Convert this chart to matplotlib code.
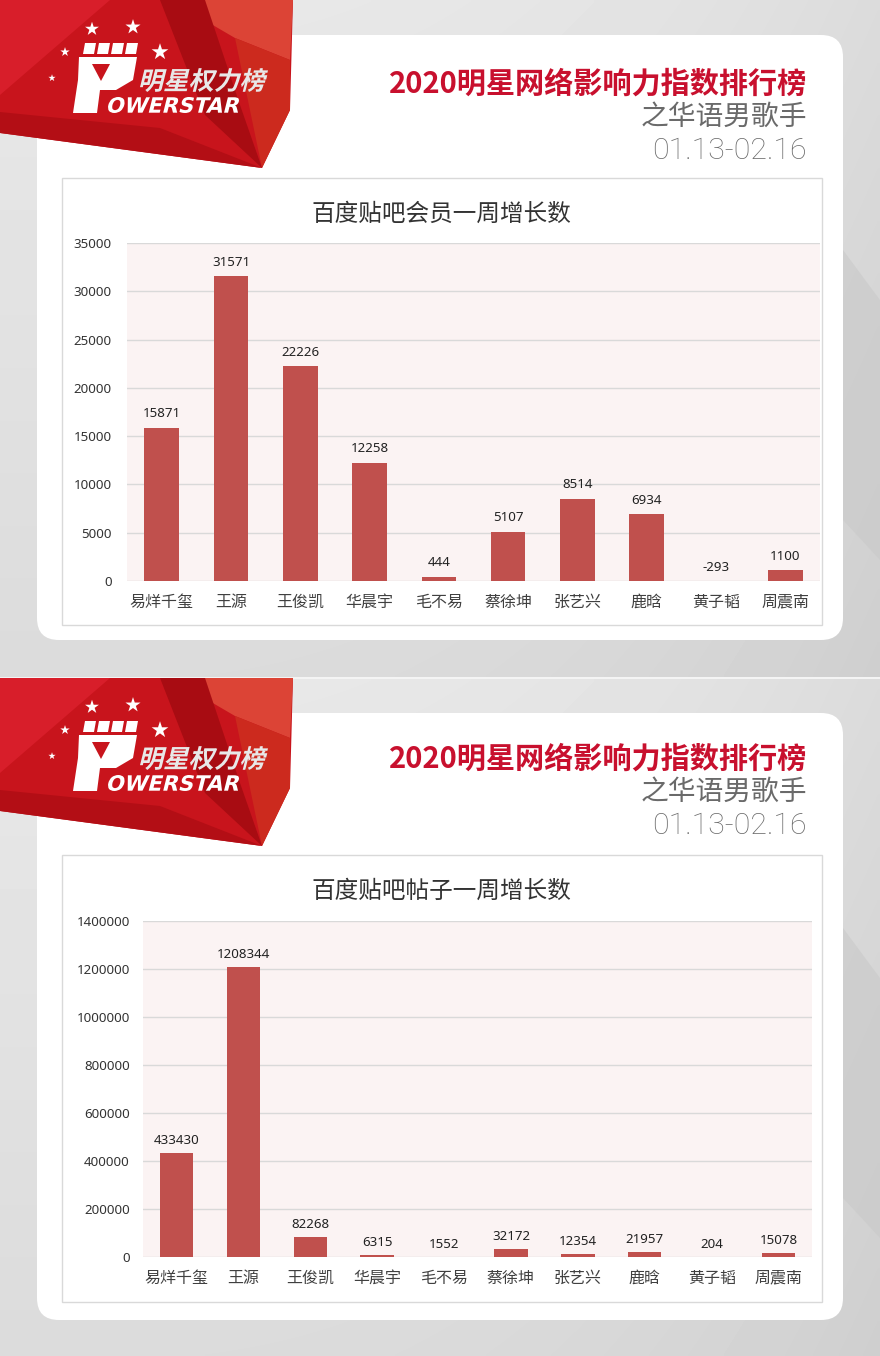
"""
Recreates the PowerStar ranking cards: weekly growth on Baidu Tieba
"""
import numpy as np
import matplotlib
matplotlib.use("Agg")
import matplotlib.pyplot as plt
from matplotlib.patches import Polygon, FancyBboxPatch, Rectangle, PathPatch
from matplotlib.textpath import TextPath
from matplotlib.font_manager import FontProperties
from matplotlib.transforms import Affine2D

plt.rcParams['font.family'] = ['Noto Sans CJK SC', 'DejaVu Sans']

W, H = 880, 1356

NAMES = ['易烊千玺', '王源', '王俊凯', '华晨宇', '毛不易', '蔡徐坤', '张艺兴', '鹿晗', '黄子韬', '周震南']
MEMBERS = [15871, 31571, 22226, 12258, 444, 5107, 8514, 6934, -293, 1100]
POSTS = [433430, 1208344, 82268, 6315, 1552, 32172, 12354, 21957, 204, 15078]

MEMBER_TICKS = [0, 5000, 10000, 15000, 20000, 25000, 30000, 35000]
POST_TICKS = [0, 200000, 400000, 600000, 800000, 1000000, 1200000, 1400000]

HEADER = '2020明星网络影响力指数排行榜'
SUBHEADER = '之华语男歌手'
DATES = '01.13-02.16'
TITLES = ['百度贴吧会员一周增长数', '百度贴吧帖子一周增长数']

BAR_COLOR = '#c0504d'
TEXT_COLOR = '#404040'
NUM_FONT = ['Noto Sans', 'DejaVu Sans']


def px_axes(fig, x0, y0, x1, y1):
    """
    Adds an axes placed by pixel box (y measured from the top).
    """
    return fig.add_axes([x0 / W, 1 - y1 / H, (x1 - x0) / W, (y1 - y0) / H])


def fit_text(bg, s, box, prop, color, skew=0):
    """
    Draws a text path stretched into a pixel box, optionally slanted.
    """
    tp = TextPath((0, 0), s, size=100, prop=prop)
    path = Affine2D().skew_deg(skew, 0).transform_path(tp)
    ext = path.get_extents()
    x0, y0, x1, y1 = box
    sx = (x1 - x0) / ext.width
    sy = (y1 - y0) / ext.height
    tr = Affine2D().translate(-ext.x0, -ext.y1).scale(sx, -sy).translate(x0, y0)
    bg.add_patch(PathPatch(tr.transform_path(path), facecolor=color, lw=0, zorder=6))


def draw_background(bg):
    """
    Grey gradient behind both cards.
    """
    yy = np.linspace(0, 1, 200)[:, None]
    xx = np.linspace(0, 1, 200)[None, :]
    shade = 0.91 - 0.05 * yy - 0.05 * xx ** 3
    for y0, y1 in [(0, 677), (679, H)]:
        bg.imshow(shade, cmap='gray', vmin=0, vmax=1, extent=(0, W, y1, y0),
                  aspect='auto', zorder=0, interpolation='bilinear')
    bg.add_patch(Rectangle((0, 677), W, 2, facecolor='#f4f4f4', lw=0, zorder=1))
    # faint diagonal facets on the right
    for dy in (0, 678):
        bg.add_patch(Polygon([(843, 250 + dy), (880, 300 + dy), (880, 560 + dy), (843, 520 + dy)],
                             facecolor='#c9c9c9', lw=0, alpha=0.6, zorder=1))


def draw_logo(bg, dy):
    """
    Red faceted banner with the PowerStar fist logo.
    """
    facets = [
        ([(0, 0), (293, 0), (290, 110), (262, 168), (0, 133)], '#c8141c'),
        ([(0, 0), (110, 0), (0, 95)], '#d81e2a'),
        ([(170, 0), (293, 0), (290, 60), (235, 38)], '#dc4436'),
        ([(160, 0), (205, 0), (240, 105), (262, 168), (205, 115)], '#a80c12'),
        ([(0, 133), (0, 112), (160, 128), (262, 168)], '#b30e15'),
        ([(235, 38), (290, 60), (290, 110), (262, 168)], '#cc2a1e'),
    ]
    for pts, col in facets:
        bg.add_patch(Polygon([(x, y + dy) for x, y in pts], facecolor=col, lw=0, zorder=5))

    fist = [(79, 57), (137, 57), (133, 80), (116, 90), (100, 90), (97, 113),
            (73, 113), (78, 80)]
    bg.add_patch(Polygon([(x, y + dy) for x, y in fist], facecolor='white', lw=0, zorder=6))
    bg.add_patch(Polygon([(92, 64 + dy), (110, 64 + dy), (101, 81 + dy)],
                         facecolor='#c8141c', lw=0, zorder=6))
    for fx in (83, 97, 111, 125):
        bg.add_patch(Polygon([(fx + 2, 43 + dy), (fx + 13, 43 + dy), (fx + 11, 54 + dy), (fx, 54 + dy)],
                             facecolor='white', lw=0, zorder=6))

    star_x = [92, 133, 65, 160, 52]
    star_y = [29, 27, 52, 52, 78]
    star_s = [110, 130, 50, 160, 30]
    bg.scatter(star_x, [y + dy for y in star_y], s=star_s, marker='*', color='white',
               lw=0, zorder=7)

    fit_text(bg, '明星权力榜', (140, 68 + dy, 268, 92 + dy),
             FontProperties(family='Noto Sans CJK SC', weight='bold'), '#e8e8e8', skew=14)
    fit_text(bg, 'OWERSTAR', (108, 97 + dy, 239, 113 + dy),
             FontProperties(family='DejaVu Sans', weight='bold'), 'white', skew=14)


def draw_card(bg, dy, top, bottom):
    """
    White rounded card with the header lines.
    """
    bg.add_patch(FancyBboxPatch((37, top), 806, bottom - top,
                                boxstyle='round,pad=0,rounding_size=22',
                                facecolor='white', edgecolor='none', zorder=2))
    bg.text(807, 84 + dy, HEADER, ha='right', va='center', fontsize=21,
            fontweight='bold', color='#c8102e', zorder=3)
    bg.text(807, 117 + dy, SUBHEADER, ha='right', va='center', fontsize=20,
            fontweight='light', color='#6a6a6a', zorder=3)
    bg.text(807, 151 + dy, DATES, ha='right', va='center', fontsize=21.8,
            family=['Roboto', 'DejaVu Sans'], fontweight='light', color='#6a6a6a', zorder=3)


def draw_chart(fig, bg, values, ticks, title, frame, plot_box, title_y, label_off, ypad):
    """
    Bar chart with value labels in an Excel-like frame.
    """
    fx0, fy0, fx1, fy1 = frame
    bg.add_patch(Rectangle((fx0, fy0), fx1 - fx0, fy1 - fy0, facecolor='white',
                           edgecolor='#d9d9d9', lw=1, zorder=3))
    bg.text(441, title_y, title, ha='center', va='center',
            fontsize=17, color='#333333', zorder=4)

    ax = px_axes(fig, *plot_box)
    ax.set_zorder(5)
    ax.set_facecolor('#fbf3f3')
    x = np.arange(len(values))
    ax.bar(x, values, width=0.5, color=BAR_COLOR, zorder=3)
    for i, v in enumerate(values):
        ax.annotate(str(v), (i, max(v, 0)), xytext=(0, label_off), textcoords='offset points',
                    ha='center', va='center', fontsize=9.6, family=NUM_FONT, color='#222222')

    ax.set_xlim(-0.5, len(values) - 0.5)
    ax.set_ylim(ticks[0], ticks[-1])
    ax.set_yticks(ticks)
    ax.set_yticklabels([str(t) for t in ticks], family=NUM_FONT)
    ax.set_xticks(x)
    ax.set_xticklabels(NAMES)
    ax.tick_params(axis='y', length=0, pad=ypad, labelsize=9.6, labelcolor='#333333')
    ax.tick_params(axis='x', length=0, pad=9, labelsize=11.5, labelcolor=TEXT_COLOR)
    ax.yaxis.grid(True, color='#d9d9d9', lw=1)
    ax.set_axisbelow(True)
    for sp in ax.spines.values():
        sp.set_visible(False)
    return ax


def main():
    fig = plt.figure(figsize=(W / 100, H / 100), dpi=100)
    bg = fig.add_axes([0, 0, 1, 1])
    bg.set_xlim(0, W)
    bg.set_ylim(H, 0)
    bg.axis('off')

    draw_background(bg)

    draw_card(bg, 0, 35, 640)
    draw_card(bg, 675, 713, 1320)
    draw_logo(bg, 0)
    draw_logo(bg, 678)

    draw_chart(fig, bg, MEMBERS, MEMBER_TICKS, TITLES[0], (62, 178, 822, 625),
               (127, 243, 820, 581), 214, 10, 11)
    draw_chart(fig, bg, POSTS, POST_TICKS, TITLES[1], (62, 855, 822, 1302),
               (143, 921, 812, 1257), 891, 9, 9.5)

    fig.savefig('out.png', dpi=100)
    return


if __name__ == "__main__":
    main()
